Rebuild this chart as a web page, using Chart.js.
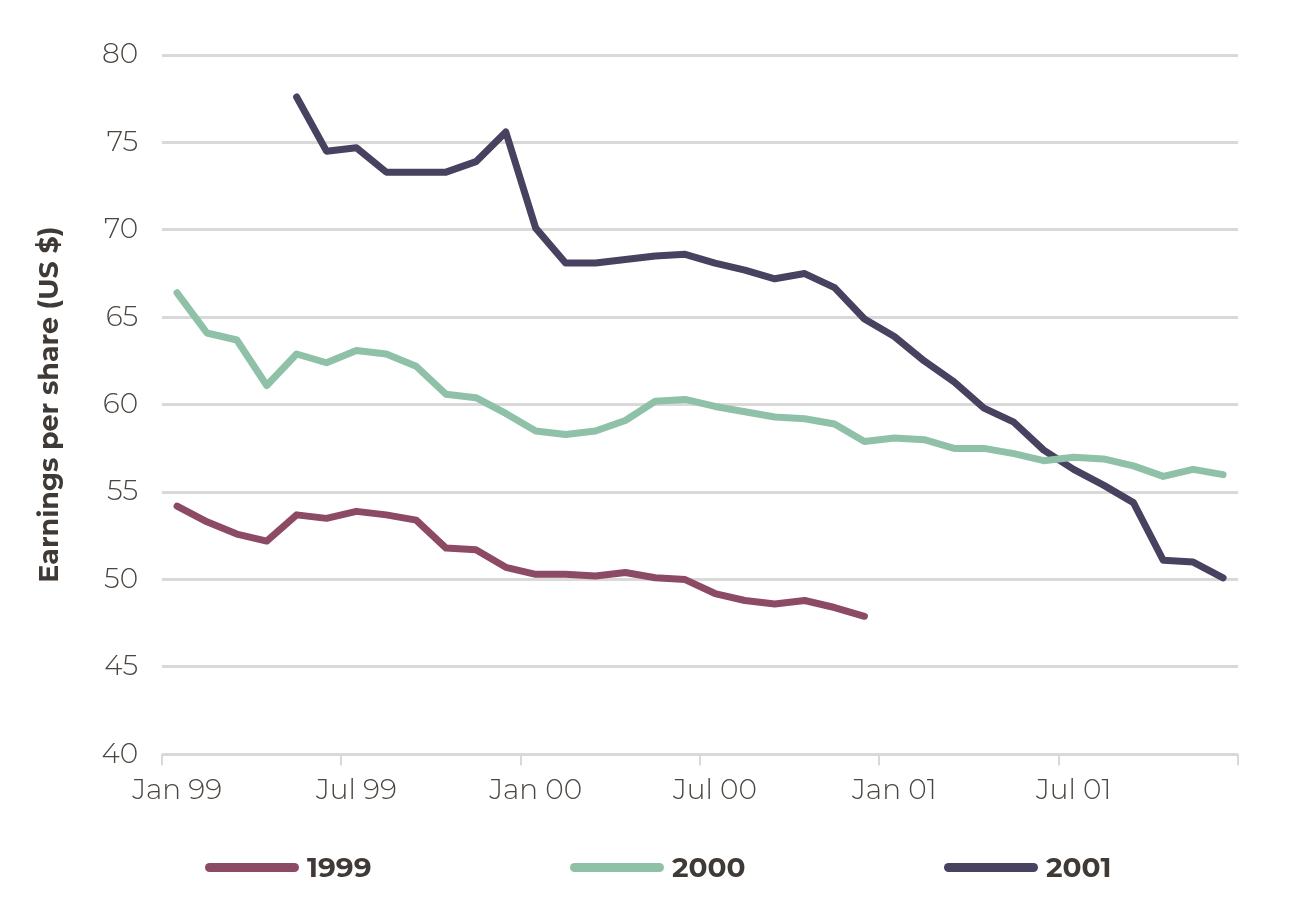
<!DOCTYPE html>
<html lang="en">
<head>
  <meta charset="UTF-8" />
  <title>Earnings per share</title>
  <script src="https://cdn.jsdelivr.net/npm/chart.js"></script>
  <style>
    body {
      margin: 0;
      background: #fff;
      font-family: Montserrat, "Open Sans", sans-serif;
    }
    .wrap {
      position: relative;
      width: 1299px;
      height: 910px;
    }
    .legend-item {
      position: absolute;
      top: 850px;
      display: flex;
      align-items: center;
      font-size: 28px;
      font-weight: 700;
      color: #3f3a36;
    }
    .legend-item span.sw {
      display: inline-block;
      width: 94px;
      height: 9px;
      border-radius: 5px;
      margin-right: 8px;
    }
  </style>
</head>
<body>
  <div class="wrap">
    <canvas id="chartEps"></canvas>
    <div class="legend-item" style="left:205px"><span class="sw" style="background:#8c4a65"></span>1999</div>
    <div class="legend-item" style="left:570px"><span class="sw" style="background:#8fc1a8"></span>2000</div>
    <div class="legend-item" style="left:944px"><span class="sw" style="background:#48415f"></span>2001</div>
  </div>

  <script>
    const meses = [
      'Jan 99','Feb 99','Mar 99','Apr 99','May 99','Jun 99','Jul 99','Aug 99','Sep 99','Oct 99','Nov 99','Dec 99',
      'Jan 00','Feb 00','Mar 00','Apr 00','May 00','Jun 00','Jul 00','Aug 00','Sep 00','Oct 00','Nov 00','Dec 00',
      'Jan 01','Feb 01','Mar 01','Apr 01','May 01','Jun 01','Jul 01','Aug 01','Sep 01','Oct 01','Nov 01','Dec 01'
    ];

    const eps1999 = [54.2, 53.3, 52.6, 52.2, 53.7, 53.5, 53.9, 53.7, 53.4, 51.8, 51.7, 50.7,
                     50.3, 50.3, 50.2, 50.4, 50.1, 50.0, 49.2, 48.8, 48.6, 48.8, 48.4, 47.9];

    const eps2000 = [66.4, 64.1, 63.7, 61.1, 62.9, 62.4, 63.1, 62.9, 62.2, 60.6, 60.4, 59.5,
                     58.5, 58.3, 58.5, 59.1, 60.2, 60.3, 59.9, 59.6, 59.3, 59.2, 58.9, 57.9,
                     58.1, 58.0, 57.5, 57.5, 57.2, 56.8, 57.0, 56.9, 56.5, 55.9, 56.3, 56.0];

    const eps2001 = [null, null, null, null, 77.6, 74.5, 74.7, 73.3, 73.3, 73.3, 73.9, 75.6,
                     70.1, 68.1, 68.1, 68.3, 68.5, 68.6, 68.1, 67.7, 67.2, 67.5, 66.7, 64.9,
                     63.9, 62.5, 61.3, 59.8, 59.0, 57.4, 56.3, 55.4, 54.4, 51.1, 51.0, 50.1];

    const corTexto = '#4a4540';
    const corGrade = '#d9d9d9';
    const fonte = 'Montserrat, "Open Sans", sans-serif';

    function serie(label, data, cor) {
      return {
        label: label,
        data: data,
        borderColor: cor,
        backgroundColor: cor,
        borderWidth: 7,
        borderCapStyle: 'round',
        borderJoinStyle: 'round',
        pointRadius: 0,
        tension: 0
      };
    }

    new Chart(document.getElementById('chartEps'), {
      type: 'line',
      data: {
        labels: meses,
        datasets: [
          serie('1999', eps1999, '#8c4a65'),
          serie('2000', eps2000, '#8fc1a8'),
          serie('2001', eps2001, '#48415f')
        ]
      },
      options: {
        responsive: true,
        maintainAspectRatio: false,
        animation: false,
        layout: {
          padding: { left: 34, right: 61, top: 55, bottom: 93 }
        },
        plugins: {
          legend: { display: false },
          tooltip: { enabled: false }
        },
        scales: {
          x: {
            offset: true,
            grid: {
              offset: true,
              drawOnChartArea: false,
              tickLength: 11,
              lineWidth: 2,
              color: ctx => (ctx.index === undefined || ctx.index % 6 === 0) ? corGrade : 'rgba(0,0,0,0)'
            },
            border: { display: false },
            ticks: {
              autoSkip: false,
              maxRotation: 0,
              padding: 9,
              color: corTexto,
              font: { family: fonte, size: 28, weight: 300 },
              callback: function (val, i) {
                return i % 6 === 0 ? this.getLabelForValue(val) : '';
              }
            }
          },
          y: {
            min: 40,
            max: 80,
            border: { display: false },
            grid: {
              color: corGrade,
              lineWidth: 3,
              drawTicks: false
            },
            ticks: {
              stepSize: 5,
              padding: 24,
              color: corTexto,
              font: { family: fonte, size: 28, weight: 300 }
            },
            title: {
              display: true,
              text: 'Earnings per share (US $)',
              color: '#3f3a36',
              padding: { top: 0, bottom: 11 },
              font: { family: fonte, size: 27, weight: 700 }
            }
          }
        }
      }
    });
  </script>
</body>
</html>
